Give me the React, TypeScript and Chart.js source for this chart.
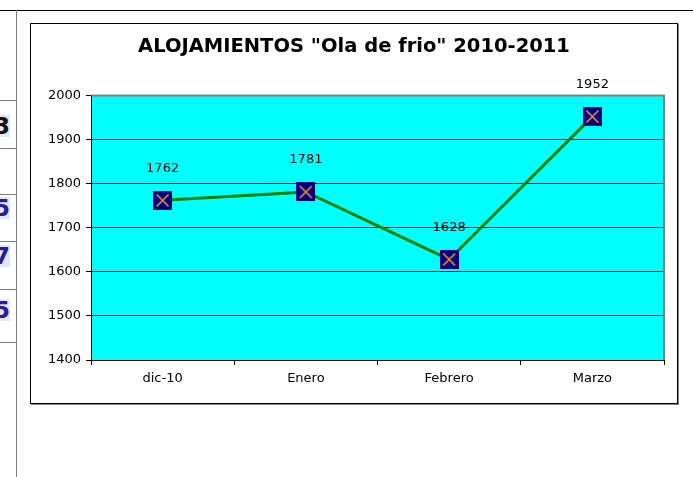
import React, { useEffect, useRef } from "react";
import { Chart, registerables } from "chart.js";

Chart.register(...registerables);

const categories = ["dic-10", "Enero", "Febrero", "Marzo"];
const alojamientos = [1762, 1781, 1628, 1952];
const chartTitle = 'ALOJAMIENTOS "Ola de frio" 2010-2011';
const yMin = 1400;
const yMax = 2000;
const yStep = 100;

// partial spreadsheet cells visible at the left edge
const sideDigits = ["3", "5", "7", "5"];
const sideDigitTops = [115, 197, 245, 299];
const sideDigitColors = ["#111111", "#2B1B9B", "#2B1B9B", "#2B1B9B"];
const sideLineTops = [100, 148, 194, 241, 289, 342];

const FONT = "'DejaVu Sans', Verdana, sans-serif";

function makeMarker(): HTMLCanvasElement {
  const c = document.createElement("canvas");
  c.width = 19;
  c.height = 19;
  const g = c.getContext("2d")!;
  g.fillStyle = "#000080";
  g.fillRect(0, 0, 19, 19);
  g.strokeStyle = "#F7941D";
  g.lineWidth = 1.6;
  g.beginPath();
  g.moveTo(3.5, 3.5);
  g.lineTo(15.5, 15.5);
  g.moveTo(15.5, 3.5);
  g.lineTo(3.5, 15.5);
  g.stroke();
  return c;
}

const plotDecor = {
  id: "plotDecor",
  beforeDraw(chart: any) {
    const { ctx, chartArea: a } = chart;
    ctx.save();
    ctx.fillStyle = "#00FFFF";
    ctx.fillRect(a.left, a.top, a.right - a.left, a.bottom - a.top);
    ctx.restore();
  },
  beforeDatasetsDraw(chart: any) {
    const { ctx, chartArea: a } = chart;
    ctx.save();
    ctx.strokeStyle = "#808080";
    ctx.lineWidth = 2;
    ctx.beginPath();
    ctx.moveTo(a.left, a.top);
    ctx.lineTo(a.right, a.top);
    ctx.lineTo(a.right, a.bottom);
    ctx.stroke();
    ctx.restore();
  },
  afterDatasetsDraw(chart: any) {
    const { ctx } = chart;
    const meta = chart.getDatasetMeta(0);
    const data = chart.data.datasets[0].data;
    ctx.save();
    ctx.fillStyle = "#000";
    ctx.font = `13px ${FONT}`;
    ctx.textAlign = "center";
    ctx.textBaseline = "middle";
    meta.data.forEach((pt: any, i: number) => {
      ctx.fillText(String(data[i]), pt.x, pt.y - 32);
    });
    ctx.restore();
  },
};

export default function App() {
  const ref = useRef<HTMLCanvasElement | null>(null);

  useEffect(() => {
    if (!ref.current) return;
    const marker = makeMarker();
    const chart = new Chart(ref.current, {
      type: "line",
      data: {
        labels: categories,
        datasets: [
          {
            data: alojamientos,
            borderColor: "#008000",
            borderWidth: 3,
            pointStyle: marker as any,
            pointRadius: 10,
            pointHoverRadius: 10,
            tension: 0,
          },
        ],
      },
      options: {
        animation: false,
        responsive: false,
        events: [],
        layout: { padding: { left: 11, right: 11, top: 0, bottom: 0 } },
        plugins: {
          legend: { display: false },
          tooltip: { enabled: false },
          title: {
            display: true,
            text: chartTitle,
            color: "#000",
            font: { family: FONT, size: 19.5, weight: "bold", lineHeight: 1.2 },
            padding: { top: 11, bottom: 37 },
          },
        },
        scales: {
          x: {
            type: "category",
            offset: true,
            grid: {
              offset: true,
              drawOnChartArea: false,
              drawTicks: true,
              tickLength: 5,
              color: "#000",
            },
            border: { color: "#000", width: 1 },
            ticks: {
              color: "#000",
              font: { family: FONT, size: 13 },
              padding: 6,
              maxRotation: 0,
            },
            afterFit(scale: any) {
              scale.height = 43;
            },
          },
          y: {
            min: yMin,
            max: yMax,
            grid: {
              color: "#000",
              lineWidth: 1,
              drawTicks: true,
              tickLength: 5,
            },
            border: { color: "#000", width: 1 },
            ticks: {
              stepSize: yStep,
              color: "#000",
              font: { family: FONT, size: 13 },
              padding: 5,
              callback: (v: any) => String(v),
            },
            afterFit(scale: any) {
              scale.width = 49;
            },
          },
        },
      },
      plugins: [plotDecor],
    });
    return () => chart.destroy();
  }, []);

  return (
    <div>
      {/* spreadsheet background */}
      <div
        style={{
          position: "absolute",
          left: 0,
          top: 10,
          width: 693,
          height: 1,
          background: "#000",
        }}
      />
      <div
        style={{
          position: "absolute",
          left: 16,
          top: 10,
          width: 1,
          height: 467,
          background: "#808080",
        }}
      />
      {sideLineTops.map((t, i) => (
        <div
          key={"l" + i}
          style={{
            position: "absolute",
            left: 0,
            top: t,
            width: 16,
            height: 1,
            background: "#808080",
          }}
        />
      ))}
      {sideDigits.map((d, i) => (
        <div
          key={"d" + i}
          style={{
            position: "absolute",
            left: 0,
            top: sideDigitTops[i],
            width: 10,
            height: 22,
            background: "#E6E6FA",
            overflow: "hidden",
          }}
        >
          <span
            style={{
              position: "absolute",
              right: 0,
              top: -2,
              fontFamily: FONT,
              fontWeight: "bold",
              fontSize: 23,
              lineHeight: "26px",
              color: sideDigitColors[i],
              whiteSpace: "nowrap",
            }}
          >
            {d}
          </span>
        </div>
      ))}
      {/* chart frame */}
      <div
        style={{
          position: "absolute",
          left: 30,
          top: 23,
          width: 646,
          height: 379,
          border: "1px solid #000",
          boxShadow: "1px 1px 0 #808080",
          background: "#fff",
        }}
      >
        <canvas
          ref={ref}
          width={646}
          height={379}
          style={{ display: "block", width: 646, height: 379 }}
        />
      </div>
    </div>
  );
}
